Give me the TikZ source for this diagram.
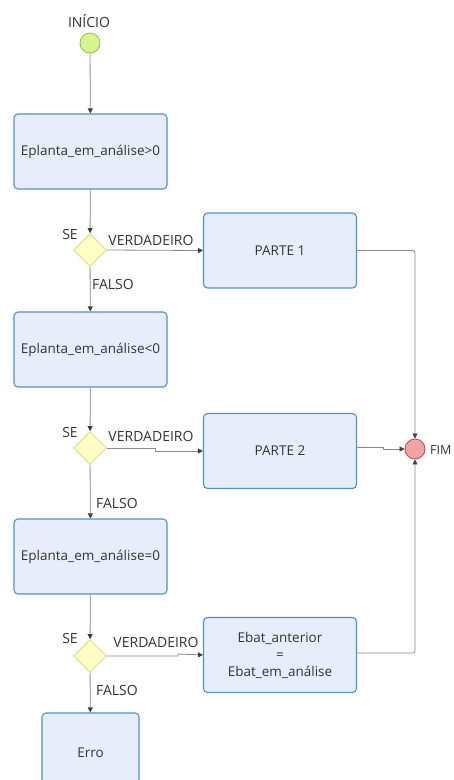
\documentclass[tikz,border=0pt]{standalone}
\usepackage{fontspec}
\setmainfont{Open Sans}
\usetikzlibrary{shapes.geometric,arrows.meta}
\definecolor{boxfill}{HTML}{E8EDFB}
\definecolor{boxline}{HTML}{4F93C4}
\definecolor{decfill}{HTML}{FFFFC4}
\definecolor{decline}{HTML}{D6D68A}
\definecolor{startfill}{HTML}{D6F58E}
\definecolor{startline}{HTML}{98C552}
\definecolor{endfill}{HTML}{EFA5A5}
\definecolor{endline}{HTML}{C65050}
\definecolor{wire}{HTML}{8A8A8A}
\definecolor{txt}{HTML}{333333}
\tikzset{
  taskbox/.style={draw=boxline, fill=boxfill, line width=1.1pt, rounded corners=4pt,
    minimum width=153pt, minimum height=75pt, align=center, font=\fontsize{13.5}{17}\selectfont, text=txt},
  decision/.style={diamond, draw=decline, fill=decfill, line width=0.8pt, minimum width=33pt, minimum height=33pt, inner sep=0pt},
  event/.style={circle, draw, line width=0.9pt, minimum size=20pt, inner sep=0pt},
  lbl/.style={font=\fontsize{14}{16}\selectfont, text=txt, inner sep=0pt},
  flow/.style={draw=wire, line width=0.8pt, -{Triangle[length=5pt,width=5pt,fill=black!75,color=black!75]}},
  wire/.style={draw=wire, line width=0.8pt, rounded corners=2pt}
}
\begin{document}
\begin{tikzpicture}[x=1pt,y=-1pt]
\useasboundingbox (0,0) rectangle (453,780);
\fill[white] (0,0) rectangle (453,780);

% start and end events
\node[event, draw=startline, fill=startfill] (start) at (90,43) {};
\node[lbl] (startlbl) at (89,21) {INÍCIO};
\node[event, draw=endline, fill=endfill] (fim) at (415,449) {};
\node[lbl, anchor=west, font=\fontsize{12.5}{14}\selectfont] (fimlbl) at (430,450) {FIM};

% main column of tests
\node[taskbox] (c1) at (90.5,151.5) {Eplanta\_em\_análise>0};
\node[decision] (d1) at (90,250) {};
\node[taskbox] (c2) at (90.5,349.5) {Eplanta\_em\_análise<0};
\node[decision] (d2) at (90,448) {};
\node[taskbox] (c3) at (90.5,556.5) {Eplanta\_em\_análise=0};
\node[decision] (d3) at (90,656) {};
\node[taskbox, minimum width=97pt, minimum height=80pt] (erro) at (90.5,753) {Erro};

% branches taken when the test holds
\node[taskbox] (p1) at (280,250.5) {PARTE 1};
\node[taskbox] (p2) at (280,451) {PARTE 2};
\node[taskbox] (p3) at (280,655) {Ebat\_anterior\\=\\Ebat\_em\_análise};

% labels around the decisions
\node[lbl] (se1) at (70,234) {SE};
\node[lbl] (se2) at (70,432) {SE};
\node[lbl] (se3) at (70,638) {SE};
\node[lbl] (v1) at (151,240) {VERDADEIRO};
\node[lbl] (v2) at (151,436) {VERDADEIRO};
\node[lbl] (v3) at (156,642) {VERDADEIRO};
\node[lbl] (f1) at (113,284) {FALSO};
\node[lbl] (f2) at (117,503) {FALSO};
\node[lbl] (f3) at (117,690) {FALSO};

% vertical flow
\draw[flow] (start) -- (c1);
\draw[flow] (c1) -- (d1);
\draw[flow] (d1) -- (c2);
\draw[flow] (c2) -- (d2);
\draw[flow] (d2) -- (c3);
\draw[flow] (c3) -- (d3);
\draw[flow] (d3) -- (erro);

% true branches
\draw[flow] (d1.east) -- (p1.west);
\draw[flow] (d2.east) -- ++(48,0) -- ++(0,3) -- (p2.west);
\draw[flow] (d3.east) -- ++(71,0) -- ++(0,-2) -- (p3.west);

% joins into the end event
\draw[wire, flow] (p1.east) -| (fim.north);
\draw[flow] (p2.east |- 0,447) -- ++(26,0) -- ++(0,2) -- (fim.west);
\draw[wire, flow] (p3.east |- 0,653) -| (fim.south);
\end{tikzpicture}
\end{document}
